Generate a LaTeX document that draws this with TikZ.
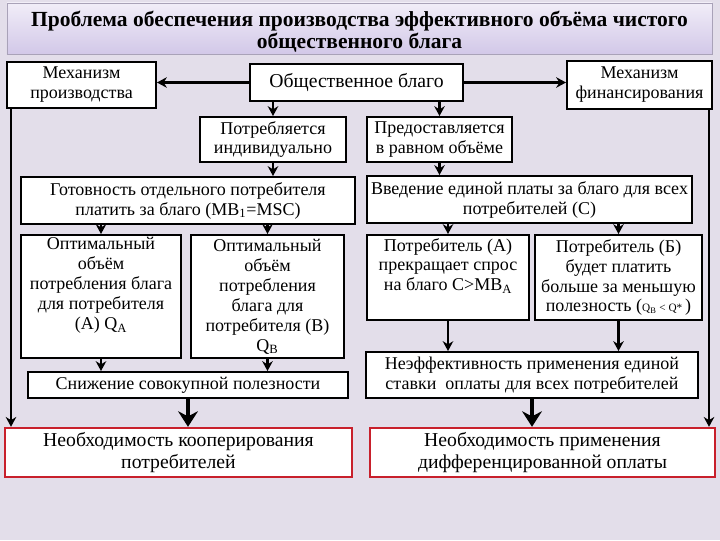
\documentclass[tikz,border=0pt]{standalone}
\usepackage{fontspec}
\setmainfont{Liberation Serif}
\usetikzlibrary{arrows.meta,positioning,calc}
\definecolor{bgLav}{HTML}{E3DEEA}
\definecolor{hdTop}{HTML}{F1EDF8}
\definecolor{hdBot}{HTML}{D2C8E8}
\definecolor{hdLine}{HTML}{A9A2B8}
\definecolor{redB}{HTML}{C8202C}

\begin{document}
\begin{tikzpicture}[x=0.025cm, y=-0.025cm,
    every node/.style={font=\fontsize{12.8}{14.2}\selectfont},
    box/.style={draw, fill=white, line width=1.4pt, align=center, inner sep=1pt},
    redbox/.style={draw=redB, fill=white, line width=1.7pt, align=center, inner sep=1pt,
      font=\fontsize{14}{16}\selectfont},
    arr/.style={-{Stealth[length=7pt,width=7.5pt]}, line width=1.5pt},
    bigarr/.style={-{Stealth[length=11pt,width=14pt]}, line width=3pt}]
  % background and heading
  \useasboundingbox (0,0) rectangle (720,540);
  \fill[bgLav] (0,0) rectangle (720,540);
  \node[draw=hdLine, top color=hdTop, bottom color=hdBot, minimum width=17.625cm,
    minimum height=1.275cm, inner ysep=0pt, align=center, font=\fontsize{15.3}{15.8}\selectfont\bfseries]
    (head) at (359.5,28.5) {\rule{0pt}{16pt}Проблема обеспечения производства эффективного объёма чистого\\общественного блага};

  % top row
  \node[box, minimum width=3.725cm, minimum height=1.15cm] (mprod) at (81.5,85) {Механизм\\производства};
  \node[box, minimum width=5.325cm, minimum height=0.925cm, font=\fontsize{14}{16}\selectfont] (blago) at (356.5,82.5) {Общественное благо};
  \node[box, minimum width=3.625cm, minimum height=1.2cm] (mfin) at (639.5,85) {Механизм\\финансирования};

  % left branch
  \node[box, minimum width=3.65cm, minimum height=1.125cm] (potr) at (273,139.5) {Потребляется\\индивидуально};
  \node[box, minimum width=8.35cm, minimum height=1.175cm] (gotov) at (188,200.5) {Готовность отдельного потребителя\\платить за благо (MB\textsubscript{1}=MSC)};
  \node[box, minimum width=4cm, minimum height=3.075cm] (optA) at (101,296.5) {Оптимальный\\объём\\потребления блага\\для потребителя\\(А) Q\textsubscript{A}\\ \strut};
  \node[box, minimum width=3.825cm, minimum height=3.075cm] (optB) at (267.5,296.5) {Оптимальный\\объём\\потребления\\блага для\\потребителя (В)\\Q\textsubscript{B}};
  \node[box, minimum width=8cm, minimum height=0.65cm] (snizh) at (188,385) {Снижение совокупной полезности};

  % right branch
  \node[box, minimum width=3.625cm, minimum height=1.125cm] (predo) at (439.5,139.5) {Предоставляется\\в равном объёме};
  \node[box, minimum width=8.125cm, minimum height=1.175cm] (vved) at (529.5,199.5) {Введение единой платы за благо для всех\\потребителей (С)};
  \node[box, minimum width=4.05cm, minimum height=2.125cm] (potrA) at (448,277.5) {Потребитель (А)\\прекращает спрос\\на благо С>MB\textsubscript{A}\\ \strut};
  \node[box, minimum width=4.175cm, minimum height=2.125cm] (potrB) at (618.5,277.5) {Потребитель (Б)\\будет платить\\больше за меньшую\\полезность ({\footnotesize Q\textsubscript{B} < Q* })};
  \node[box, minimum width=8.3cm, minimum height=1.15cm] (neeff) at (532,375) {Неэффективность применения единой\\ставки\ \ оплаты для всех потребителей};

  % conclusions
  \node[redbox, minimum width=8.675cm, minimum height=1.225cm] (coop) at (178.5,452.5) {Необходимость кооперирования\\потребителей};
  \node[redbox, minimum width=8.625cm, minimum height=1.225cm] (diff) at (542.5,452.5) {Необходимость применения\\дифференцированной оплаты};

  % connectors
  \draw[arr] (blago.west) -- (blago.west -| mprod.east);
  \draw[arr] (blago.east) -- (blago.east -| mfin.west);
  \draw[arr] (blago.south -| potr.north) -- (potr.north);
  \draw[arr] (blago.south -| predo.north) -- (predo.north);
  \draw[arr] (potr.south) -- (potr.south |- gotov.north);
  \draw[arr] (gotov.south -| optA.north) -- (optA.north);
  \draw[arr] (gotov.south -| optB.north) -- (optB.north);
  \draw[arr] (optA.south) -- (optA.south |- snizh.north);
  \draw[arr] (optB.south) -- (optB.south |- snizh.north);
  \draw[arr] (predo.south) -- (predo.south |- vved.north);
  \draw[arr] (vved.south -| potrA.north) -- (potrA.north);
  \draw[arr] (vved.south -| potrB.north) -- (potrB.north);
  \draw[arr] (potrA.south) -- (potrA.south |- neeff.north);
  \draw[arr] (potrB.south) -- (potrB.south |- neeff.north);
  \draw[bigarr] (snizh.south) -- (snizh.south |- coop.north);
  \draw[bigarr] (neeff.south) -- (neeff.south |- diff.north);
  \coordinate (lft) at ([xshift=0.125cm]mprod.south west);
  \coordinate (rgt) at ([xshift=-0.1cm]mfin.south east);
  \draw[arr] (lft) -- (lft |- coop.north);
  \draw[arr] (rgt) -- (rgt |- diff.north);
\end{tikzpicture}
\end{document}
